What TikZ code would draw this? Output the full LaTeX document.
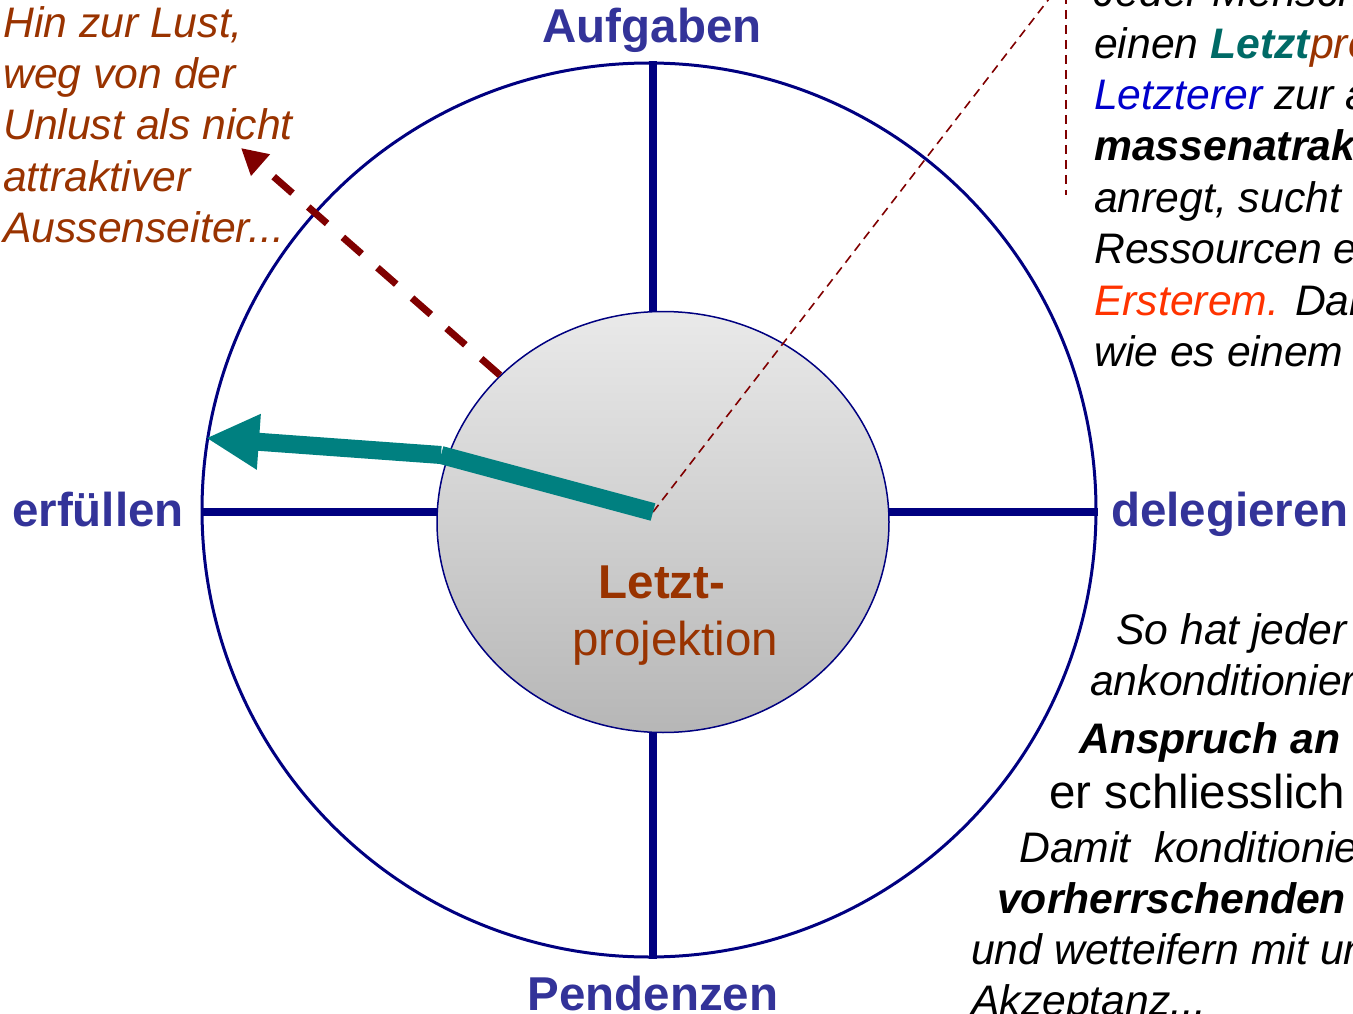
\documentclass[tikz,border=0pt]{standalone}
\usepackage{fontspec}
\setmainfont{Liberation Sans}
\usepackage{xcolor}
\usetikzlibrary{calc,
	positioning,
	shapes,
	arrows.meta}
\definecolor{rimblue}{HTML}{000080}
\definecolor{lblblue}{HTML}{333399}
\definecolor{lustbrown}{HTML}{993300}
\definecolor{arrteal}{HTML}{008080}
\definecolor{txtteal}{HTML}{006A66}
\definecolor{darkrot}{HTML}{800000}
\definecolor{txtblue}{HTML}{0000CC}
\definecolor{txtred}{HTML}{FF3300}
\tikzstyle{rim}=[draw=rimblue, line width=3pt, circle, minimum size=894pt, inner sep=0]
\tikzstyle{cross}=[draw=rimblue, line width=8pt]
\tikzstyle{kernel}=[draw=rimblue, line width=1.5pt, ellipse, minimum width=452pt,
		minimum height=421pt, inner sep=0, top color=gray!17, bottom color=gray!57]
\tikzstyle{lbl}=[text=lblblue, inner sep=0, font=\fontsize{47.5}{56}\selectfont\bfseries]
\tikzstyle{note}=[inner sep=0, align=left, font=\fontsize{42.7}{51.4}\selectfont\itshape]
\tikzstyle{tealln}=[draw=arrteal, line width=18pt]
\tikzstyle{lustln}=[draw=darkrot, line width=7pt, dash pattern=on 25pt off 21pt]
\tikzstyle{callln}=[draw=darkrot, line width=1.6pt, dash pattern=on 9pt off 6pt]

\begin{document}
\begin{tikzpicture}[x=1pt, y=-1pt]
	\useasboundingbox (0,0) rectangle (1353,1014);
	\coordinate (hub) at (653,512);
	\node[rim] (ring) at (649,510) {};
	\draw[cross] (ring.west |- hub) -- (ring.east |- hub);
	\draw[cross] (ring.north -| hub) -- (ring.south -| hub);
	\node[kernel] (core) at (663,522) {};
	\coordinate (calltop) at (1066,-5);
	\coordinate (callbot) at (1066,195);
	\coordinate (callend) at (1052,-5);
	\draw[callln] (hub) -- (callend);
	\draw[callln] (calltop) -- (callbot);
	\coordinate (bend) at (441,455);
	\coordinate (tip) at (206,438);
	\coordinate (lusttip) at (241,148);
	\draw[tealln] (hub) -- (bend);
	\draw[tealln, -{Triangle[length=53pt, width=52pt]}] (bend) -- (tip);
	\draw[lustln, -{Triangle[length=26pt, width=27pt]}] (core.138) -- (lusttip);

	\node[lbl, anchor=base] (aufgaben) at (652,43) {Aufgaben};
	\node[lbl, anchor=base] (erfuellen) at (98,526) {erfüllen};
	\node[lbl, anchor=base west] (delegieren) at (1111,526) {delegieren};
	\node[lbl, anchor=base] (pendenzen) at (653,1010) {Pendenzen};
	\node[lbl, anchor=base, text=lustbrown] (letzt) at (662,598) {Letzt-};
	\node[lbl, anchor=base, text=lustbrown, font=\fontsize{47.5}{56}\selectfont]
		(projektion) at (675,655) {projektion};

	\node[note, text=lustbrown, anchor=north west] (lust) at (3,1)
		{\strut Hin zur Lust,\\weg von der\\Unlust als nicht\\attraktiver\\Aussenseiter...};
	\node[note, anchor=north west] (jeder) at (1094,-29.5)
		{\strut Jeder Mensch\\
		einen \textbf{\color{txtteal}Letzt}{\color{lustbrown}projektion}\\
		{\color{txtblue}Letzterer} zur a\\
		\textbf{massenatrak}\\
		anregt, sucht\\
		Ressourcen e\\
		{\color{txtred}Ersterem.} Dar\\
		wie es einem};

	\node[note, anchor=base west] (sohat) at (1116,644) {So hat jeder};
	\node[note, anchor=base west] (ankond) at (1090,695) {ankonditioniert};
	\node[note, anchor=base west] (anspruch) at (1079,753) {\bfseries Anspruch an};
	\node[note, anchor=base west, font=\fontsize{47.5}{56}\selectfont]
		(schliess) at (1049,808) {er schliesslich};
	\node[note, anchor=base west] (damit) at (1019,862) {Damit\ \ konditioniert};
	\node[note, anchor=base west] (vorherr) at (997,913) {\bfseries vorherrschenden};
	\node[note, anchor=base west] (wetteif) at (971,964) {und wetteifern mit un};
	\node[note, anchor=base west] (akzept) at (971,1015) {Akzeptanz...};
\end{tikzpicture}
\end{document}
